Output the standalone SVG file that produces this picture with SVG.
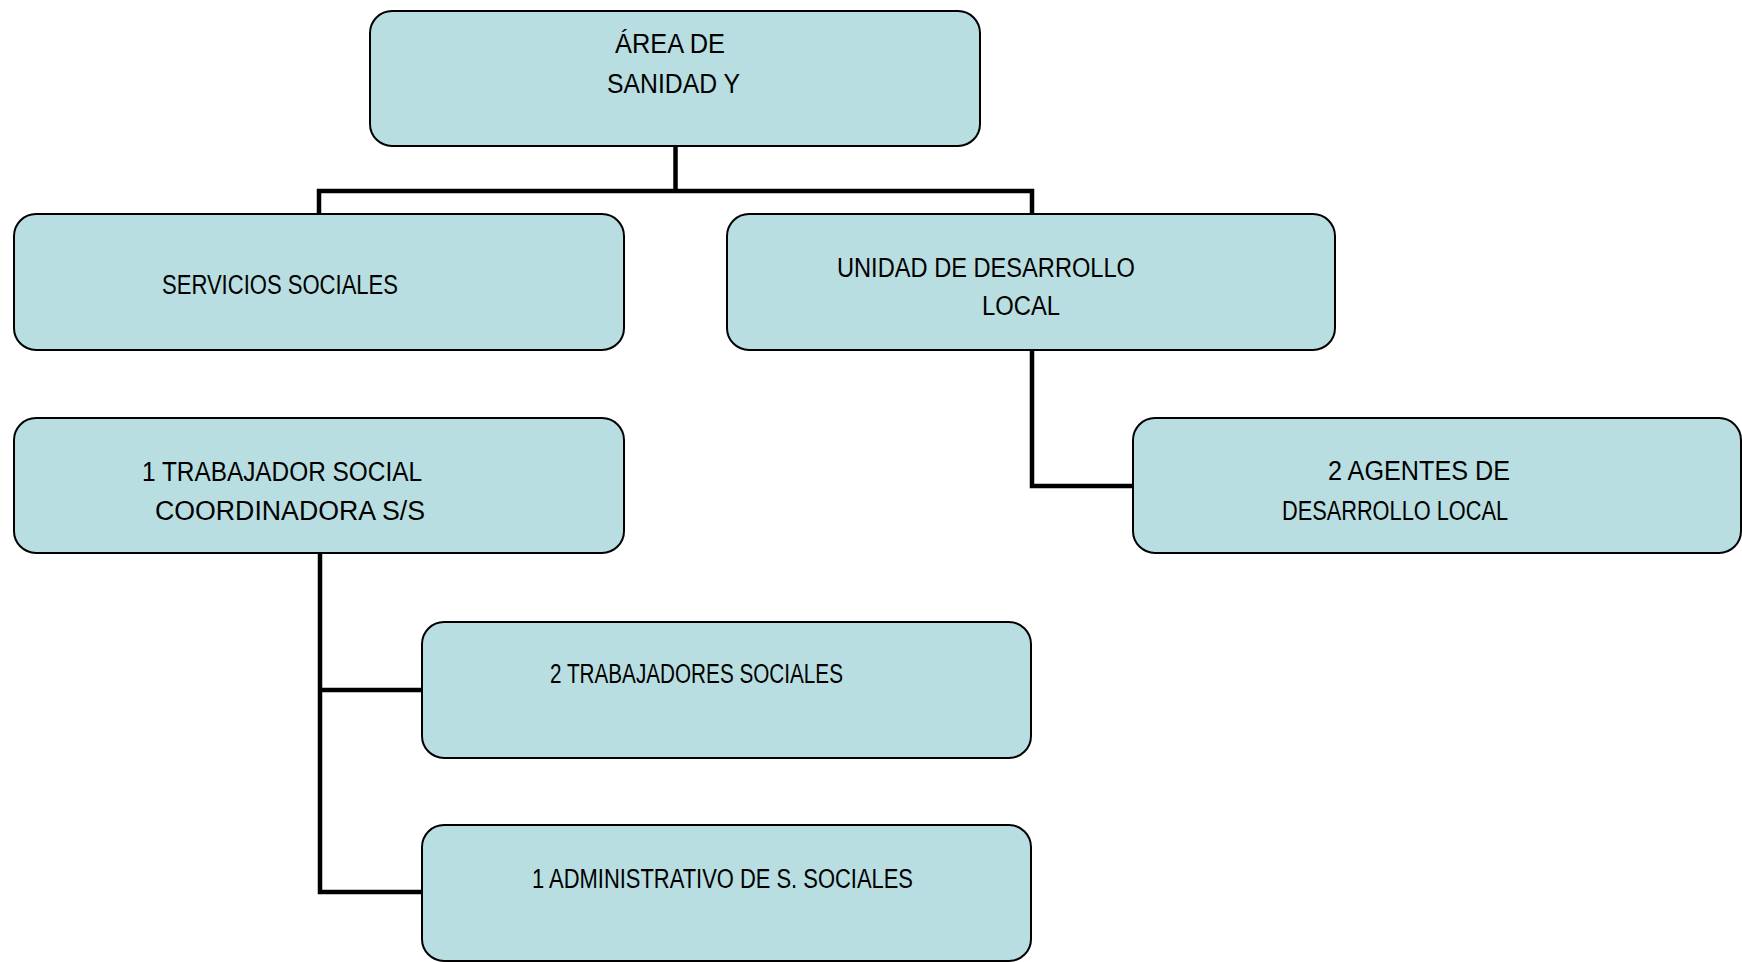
<svg xmlns="http://www.w3.org/2000/svg" width="1742" height="962" viewBox="0 0 1742 962">
<style>
.box{fill:#b8dee1;stroke:#000;stroke-width:2}
.t{font-family:"Liberation Sans",Arial,sans-serif;font-size:27px;fill:#000}
.c{fill:none;stroke:#000;stroke-width:4.5;stroke-linejoin:miter}
</style>
<rect width="1742" height="962" fill="#fff"/>
<g id="connectors">
<path class="c" d="M675.5 146V191M319 214V191H1032V214"/>
<path class="c" d="M1032 350V486H1133"/>
<path class="c" d="M320 553V892H422M320 690H422"/>
</g>
<g id="area">
<rect class="box" x="370" y="11" width="610" height="135" rx="22"/>
<text class="t" x="615" y="53" textLength="110" lengthAdjust="spacingAndGlyphs">ÁREA DE</text>
<text class="t" x="607" y="93" textLength="133" lengthAdjust="spacingAndGlyphs">SANIDAD Y</text>
</g>
<g id="servicios">
<rect class="box" x="14" y="214" width="610" height="136" rx="22"/>
<text class="t" x="162" y="294" textLength="236" lengthAdjust="spacingAndGlyphs">SERVICIOS SOCIALES</text>
</g>
<g id="unidad">
<rect class="box" x="727" y="214" width="608" height="136" rx="22"/>
<text class="t" x="837" y="277" textLength="298" lengthAdjust="spacingAndGlyphs">UNIDAD DE DESARROLLO</text>
<text class="t" x="982" y="315" textLength="78" lengthAdjust="spacingAndGlyphs">LOCAL</text>
</g>
<g id="trabajador">
<rect class="box" x="14" y="418" width="610" height="135" rx="22"/>
<text class="t" x="142" y="481" textLength="280" lengthAdjust="spacingAndGlyphs">1 TRABAJADOR SOCIAL</text>
<text class="t" x="155" y="520" textLength="270" lengthAdjust="spacingAndGlyphs">COORDINADORA S/S</text>
</g>
<g id="agentes">
<rect class="box" x="1133" y="418" width="608" height="135" rx="22"/>
<text class="t" x="1328" y="480" textLength="182" lengthAdjust="spacingAndGlyphs">2 AGENTES DE</text>
<text class="t" x="1282" y="520" textLength="226" lengthAdjust="spacingAndGlyphs">DESARROLLO LOCAL</text>
</g>
<g id="trabajadores">
<rect class="box" x="422" y="622" width="609" height="136" rx="22"/>
<text class="t" x="550" y="683" textLength="293" lengthAdjust="spacingAndGlyphs">2 TRABAJADORES SOCIALES</text>
</g>
<g id="administrativo">
<rect class="box" x="422" y="825" width="609" height="136" rx="22"/>
<text class="t" x="532" y="888" textLength="381" lengthAdjust="spacingAndGlyphs">1 ADMINISTRATIVO DE S. SOCIALES</text>
</g>
</svg>
